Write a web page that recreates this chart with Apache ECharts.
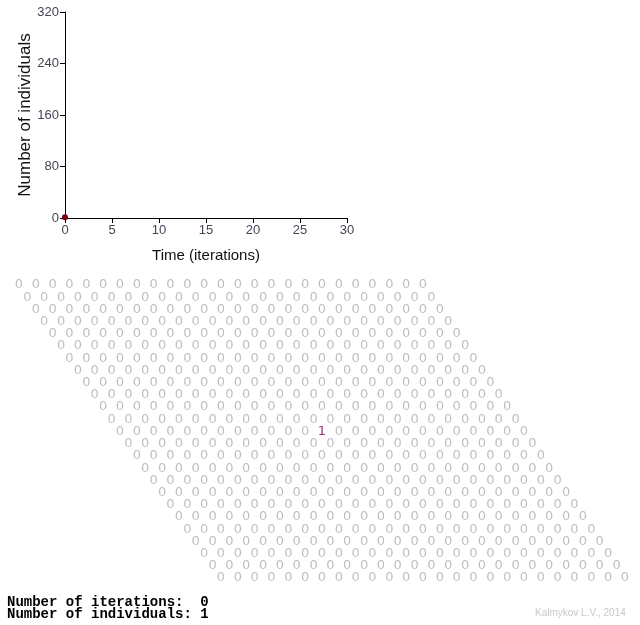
<!DOCTYPE html>
<html>
<head>
<meta charset="utf-8">
<script src="https://cdn.jsdelivr.net/npm/echarts@6/dist/echarts.min.js"></script>
<style>html,body{margin:0;padding:0;background:#fff}#c{width:640px;height:625px}</style>
</head>
<body>
<div id="c"></div>
<script>
// Line chart data
const timeValues = [0];
const individualValues = [1];
const yTicks = [0, 80, 160, 240, 320];
const xTicks = [0, 5, 10, 15, 20, 25, 30];

// Cellular automaton lattice (25 rows x 25 cells)
const latticeRows = [
  "0000000000000000000000000",
  "0000000000000000000000000",
  "0000000000000000000000000",
  "0000000000000000000000000",
  "0000000000000000000000000",
  "0000000000000000000000000",
  "0000000000000000000000000",
  "0000000000000000000000000",
  "0000000000000000000000000",
  "0000000000000000000000000",
  "0000000000000000000000000",
  "0000000000000000000000000",
  "0000000000001000000000000",
  "0000000000000000000000000",
  "0000000000000000000000000",
  "0000000000000000000000000",
  "0000000000000000000000000",
  "0000000000000000000000000",
  "0000000000000000000000000",
  "0000000000000000000000000",
  "0000000000000000000000000",
  "0000000000000000000000000",
  "0000000000000000000000000",
  "0000000000000000000000000",
  "0000000000000000000000000"
];
const iterations = 0;
const individuals = 1;

const cells0 = [], cells1 = [];
latticeRows.forEach((row, r) => {
  row.split('').forEach((ch, c) => {
    const v = +ch;
    const pt = [c + r * 0.5, r, v];
    (v === 1 ? cells1 : cells0).push(pt);
  });
});

const chart = echarts.init(document.getElementById('c'), null, {renderer: 'canvas'});
const axisFont = {fontFamily: 'Arial, Liberation Sans, sans-serif', fontSize: 13, color: '#445'};
chart.setOption({
  animation: false,
  grid: [
    {left: 65, top: 12, width: 282, height: 206},
    {left: 19, top: 285, width: 606, height: 293}
  ],
  xAxis: [
    {
      gridIndex: 0, type: 'value', min: 0, max: 30, interval: 5,
      name: 'Time (iterations)', nameLocation: 'middle', nameGap: 30,
      nameTextStyle: {fontFamily: 'Arial, Liberation Sans, sans-serif', fontSize: 15, color: '#111'},
      axisLine: {lineStyle: {color: '#000', width: 1}},
      axisTick: {show: true, length: 5, lineStyle: {color: '#000'}},
      axisLabel: Object.assign({margin: 6}, axisFont),
      splitLine: {show: false}
    },
    {gridIndex: 1, type: 'value', min: 0, max: 36, show: false}
  ],
  yAxis: [
    {
      gridIndex: 0, type: 'value', min: 0, max: 320, interval: 80,
      name: 'Number of individuals', nameLocation: 'middle', nameGap: 31,
      nameTextStyle: {fontFamily: 'Arial, Liberation Sans, sans-serif', fontSize: 17, color: '#111'},
      axisLine: {show: true, lineStyle: {color: '#000', width: 1}},
      axisTick: {show: true, length: 5, lineStyle: {color: '#000'}},
      axisLabel: Object.assign({margin: 6}, axisFont),
      splitLine: {show: false}
    },
    {gridIndex: 1, type: 'value', min: 0, max: 24, inverse: true, show: false}
  ],
  series: [
    {
      type: 'line', xAxisIndex: 0, yAxisIndex: 0,
      data: timeValues.map((t, i) => [t, individualValues[i]]),
      symbol: 'circle', symbolSize: 6, showSymbol: true,
      itemStyle: {color: '#7a0010'}, lineStyle: {color: '#7a0010', width: 1.5},
      clip: false
    },
    {
      type: 'scatter', xAxisIndex: 1, yAxisIndex: 1, data: cells0,
      symbolSize: 2, itemStyle: {color: 'rgba(255,255,255,0)'},
      label: {show: true, position: 'inside', formatter: p => String(p.value[2]),
        fontFamily: '"DejaVu Sans", Verdana, sans-serif', fontSize: 13, color: '#aeaeb6'},
      labelLayout: {hideOverlap: false},
      silent: true
    },
    {
      type: 'scatter', xAxisIndex: 1, yAxisIndex: 1, data: cells1,
      symbolSize: 2, itemStyle: {color: 'rgba(255,255,255,0)'},
      label: {show: true, position: 'inside', formatter: p => String(p.value[2]),
        fontFamily: '"DejaVu Sans", Verdana, sans-serif', fontSize: 13, color: '#800050'},
      silent: true
    }
  ],
  graphic: [
    {type: 'text', left: 7, top: 595, style: {text: 'Number of iterations:  ' + iterations,
      font: 'bold 14px "Liberation Mono", "DejaVu Sans Mono", monospace', fill: '#000'}},
    {type: 'text', left: 7, top: 607, style: {text: 'Number of individuals: ' + individuals,
      font: 'bold 14px "Liberation Mono", "DejaVu Sans Mono", monospace', fill: '#000'}},
    {type: 'text', left: 535, top: 608, style: {text: 'Kalmykov L.V., 2014',
      font: '10px Arial, "Liberation Sans", sans-serif', fill: '#c8c8c8'}}
  ]
});
</script>
</body>
</html>
